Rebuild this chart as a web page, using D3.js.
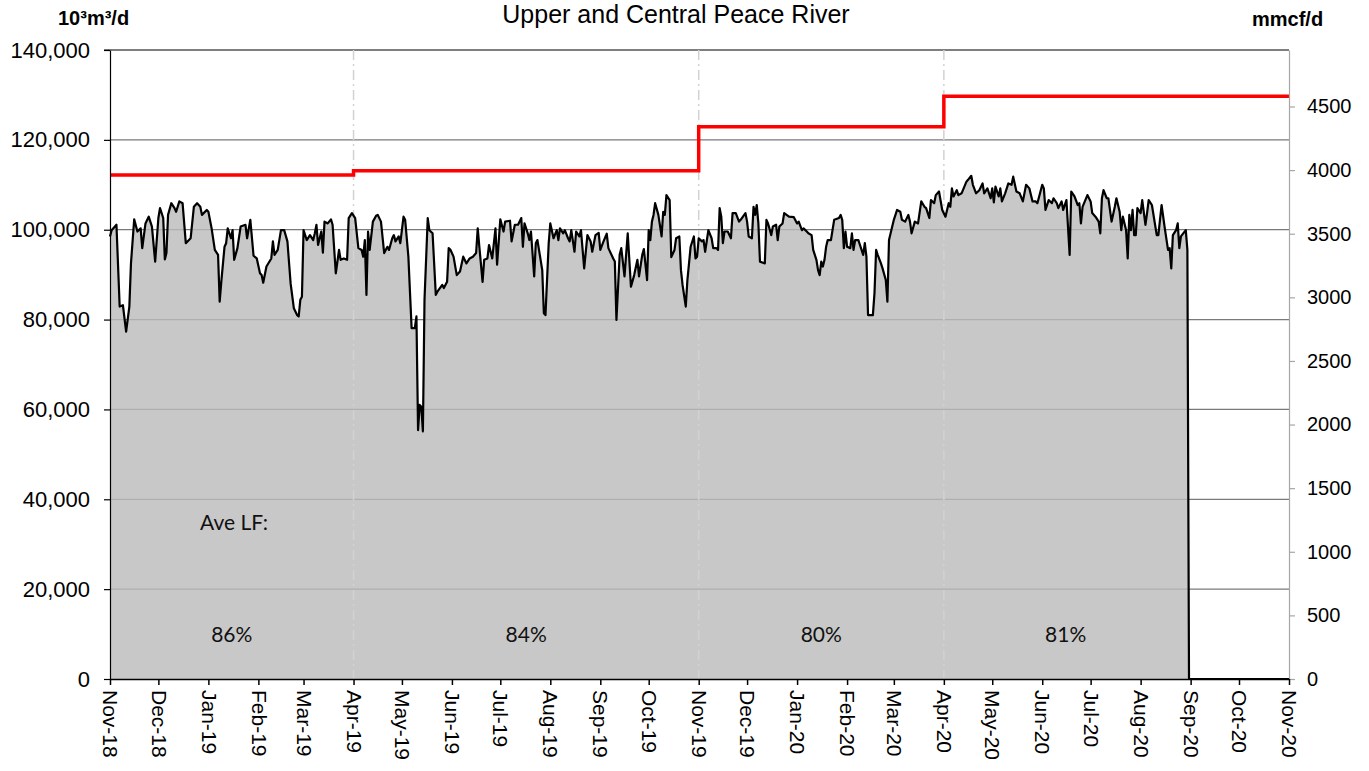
<!DOCTYPE html>
<html>
<head>
<meta charset="utf-8">
<script src="https://cdn.jsdelivr.net/npm/d3@7"></script>
<style>
  body { margin: 0; background: #fff; }
  svg text { font-family: "Liberation Sans", Arial, sans-serif; fill: #000; }
  svg text.note { font-family: Lato, "Open Sans", sans-serif; fill: #111; }
</style>
</head>
<body>
<svg id="chart" width="1369" height="771"></svg>
<script>
// daily throughput, 10^3 m3/d as [days since Nov 1 2018, value]
const flowReadings = [
  [0, 98500], [1, 99900], [4, 101100], [6, 82900], [8, 83200], [10, 77300], [12, 82900], [13, 92500], [15, 102300], [17, 99600],
  [19, 100300], [20, 95900], [22, 101400], [24, 102900], [26, 100700], [28, 92900], [30, 102600], [31, 104800], [33, 102600], [34, 93400],
  [35, 94800], [36, 103300], [38, 105900], [40, 104800], [41, 104000], [43, 106300], [45, 105900], [47, 97000], [50, 98100], [52, 105100],
  [54, 105900], [56, 105100], [57, 103300], [60, 104400], [61, 104000], [63, 100300], [65, 95500], [67, 94400], [68, 84000], [69, 88400],
  [71, 96200], [72, 97000], [73, 100300], [75, 98100], [76, 99900], [77, 93300], [79, 95900], [81, 100700], [84, 101100], [85, 98100],
  [87, 102200], [89, 94200], [91, 93600], [93, 90300], [94, 89900], [95, 88200], [97, 91800], [100, 93600], [101, 97400], [102, 94400],
  [104, 95500], [106, 99900], [108, 99900], [110, 97400], [112, 88000], [114, 82500], [116, 81000], [117, 80700], [118, 84400], [119, 85100],
  [120, 99900], [122, 97700], [124, 98800], [126, 97700], [127, 99200], [128, 101100], [129, 96600], [131, 99600], [132, 94900], [133, 101800],
  [135, 101400], [137, 102300], [138, 101100], [140, 90300], [142, 95500], [143, 93300], [145, 93600], [147, 93300], [148, 102600], [150, 103700],
  [152, 102600], [154, 95900], [156, 95500], [157, 94000], [158, 97700], [159, 85500], [160, 99600], [161, 95500], [163, 101800], [165, 103100],
  [166, 103300], [168, 101800], [170, 94800], [172, 96200], [173, 95500], [175, 98100], [176, 98800], [177, 97400], [179, 98500], [180, 97000],
  [182, 102900], [183, 102200], [185, 94000], [187, 78100], [189, 78100], [190, 80700], [191, 55400], [192, 61000], [193, 60600], [194, 55100],
  [195, 84400], [197, 102600], [198, 99900], [200, 99200], [202, 85500], [203, 86200], [206, 87700], [207, 87000], [209, 88400], [210, 95900],
  [211, 95600], [213, 94000], [215, 89900], [217, 90700], [219, 94000], [221, 92500], [223, 93600], [225, 94000], [227, 94800], [228, 100300],
  [229, 96200], [231, 88400], [232, 93300], [234, 93600], [235, 96600], [237, 93600], [239, 100300], [240, 92200], [242, 102300], [244, 99600],
  [245, 101800], [248, 102000], [249, 97400], [251, 101100], [253, 101100], [255, 102600], [256, 96200], [257, 101400], [259, 99200], [260, 97700],
  [261, 99600], [263, 89600], [264, 97000], [265, 97700], [268, 91000], [269, 81400], [270, 81000], [272, 97000], [273, 101400], [275, 98100],
  [277, 99900], [278, 97700], [279, 100300], [281, 99200], [282, 99900], [284, 98100], [285, 97400], [286, 99900], [288, 95100], [289, 99600],
  [291, 98500], [292, 99900], [294, 91400], [296, 98800], [298, 97400], [299, 95100], [301, 98800], [303, 99300], [304, 95500], [306, 97400],
  [308, 99100], [309, 95900], [312, 93600], [313, 92900], [314, 79900], [316, 94400], [317, 95900], [319, 89600], [321, 99200], [323, 87300],
  [325, 89900], [327, 93300], [328, 89600], [330, 94400], [331, 95700], [333, 88800], [334, 99900], [335, 97700], [336, 101800], [337, 103300],
  [338, 105900], [340, 103300], [342, 98500], [343, 104000], [344, 103300], [345, 107700], [347, 106600], [348, 93900], [350, 95500], [351, 98100],
  [353, 98500], [354, 91000], [355, 87700], [357, 82900], [358, 88800], [360, 96200], [362, 98500], [363, 93600], [364, 94000], [365, 98100],
  [367, 97400], [368, 97700], [369, 95100], [371, 99900], [373, 98100], [374, 95900], [376, 95900], [377, 95500], [378, 104800], [379, 102900],
  [380, 97000], [381, 99600], [383, 99600], [385, 98100], [386, 103700], [388, 103700], [390, 101800], [391, 102200], [394, 103700], [395, 101800],
  [396, 98500], [398, 98100], [399, 105100], [400, 103300], [401, 105500], [402, 101400], [403, 92900], [406, 92500], [407, 102200], [408, 101400],
  [410, 98800], [411, 100700], [413, 101100], [414, 97700], [415, 100700], [417, 101400], [418, 103700], [421, 102900], [424, 102800], [426, 101400],
  [427, 101800], [429, 99900], [430, 100300], [432, 99600], [433, 99200], [435, 98800], [436, 95500], [438, 93300], [439, 91000], [440, 89900],
  [441, 92900], [442, 91800], [443, 93300], [444, 96200], [445, 97700], [447, 97700], [449, 102200], [452, 102600], [453, 103300], [454, 102200],
  [455, 95900], [456, 99600], [457, 96200], [459, 95900], [460, 99200], [461, 95500], [462, 97700], [464, 97700], [465, 96600], [467, 94400],
  [468, 97000], [469, 94000], [470, 81000], [473, 81000], [474, 85900], [475, 95500], [476, 94400], [478, 92500], [479, 91400], [481, 88800],
  [482, 84000], [483, 97700], [484, 99200], [486, 102200], [488, 104400], [490, 104000], [491, 102200], [493, 101800], [495, 103300], [496, 101800],
  [497, 99200], [499, 101800], [501, 101400], [503, 106300], [505, 105100], [506, 104800], [508, 102600], [509, 106600], [511, 105900], [512, 107700],
  [514, 108500], [516, 104400], [518, 102900], [520, 105900], [521, 105100], [522, 109200], [523, 107400], [525, 108800], [526, 107700], [528, 108100],
  [531, 110700], [532, 111100], [534, 112000], [535, 110000], [537, 108100], [539, 108800], [541, 110300], [542, 108100], [544, 109200], [546, 107000],
  [547, 109200], [548, 106100], [549, 109600], [551, 107400], [552, 109200], [553, 106300], [555, 108100], [557, 110300], [559, 110000], [560, 111800],
  [562, 108500], [564, 108100], [566, 106300], [568, 110000], [570, 109200], [572, 106300], [574, 106300], [575, 105900], [578, 110000], [579, 109200],
  [580, 104400], [582, 106600], [584, 105900], [585, 107000], [587, 105900], [588, 104800], [590, 106300], [591, 104400], [593, 106600], [595, 94400],
  [596, 108500], [598, 107400], [600, 105500], [601, 105900], [602, 101400], [603, 105100], [606, 107700], [608, 106300], [609, 103700], [611, 102900],
  [613, 101800], [614, 99200], [615, 107000], [616, 108800], [618, 107000], [619, 107000], [621, 101800], [623, 105100], [624, 107000], [626, 104000],
  [627, 99900], [628, 102900], [630, 99900], [631, 93600], [632, 103300], [633, 99900], [634, 104400], [635, 98800], [636, 98800], [637, 104800],
  [639, 103700], [640, 106600], [642, 101100], [643, 103700], [644, 106600], [646, 105500], [649, 98800], [650, 98800], [652, 105500], [654, 100300],
  [656, 95500], [657, 95900], [658, 91400], [659, 98800], [661, 99900], [662, 101400], [663, 95900], [664, 98500], [667, 99900], [668, 95500],
  [669, 0], [731, 0]
]

// design capacity steps, 10^3 m3/d
const capacityStarts = ["2018-11-01", "2019-04-01", "2019-11-01", "2020-04-01"]
const capacityValues = [112200, 113100, 122900, 129700]

// average load factor per period
const lfPeriodStart = ["2018-11-01", "2019-04-01", "2019-11-01", "2020-04-01"]
const lfPeriodEnd = ["2019-04-01", "2019-11-01", "2020-04-01", "2020-08-30"]
const lfLabels = ["86%", "84%", "80%", "81%"]

const dividerDates = ["2019-04-01", "2019-11-01", "2020-04-01"]
const leftTicks = [0, 20000, 40000, 60000, 80000, 100000, 120000, 140000]
const rightTicks = [0, 500, 1000, 1500, 2000, 2500, 3000, 3500, 4000, 4500]
const firstDay = "2018-11-01"
const lastDay = "2020-11-01"
const mmcfPerE3m3 = 0.0353147

const parseDate = d3.timeParse("%Y-%m-%d")
const startDate = parseDate(firstDay)
const endDate = parseDate(lastDay)

const plotLeft = 110, plotRight = 1289, plotTop = 50, plotBottom = 679

const x = d3.scaleTime().domain([startDate, endDate]).range([plotLeft, plotRight])
const y = d3.scaleLinear().domain([0, 140000]).range([plotBottom, plotTop])
const yRight = d3.scaleLinear().domain([0, 140000 * mmcfPerE3m3]).range([plotBottom, plotTop])

const svg = d3.select("#chart")

const flow = flowReadings.map(([day, value]) => ({date: d3.timeDay.offset(startDate, day), value}))

// horizontal grid (under the area so it shows lighter inside it)
svg.append("g")
    .selectAll("line")
    .data(leftTicks.slice(1, -1))
    .join("line")
    .attr("x1", plotLeft).attr("x2", plotRight)
    .attr("y1", d => y(d)).attr("y2", d => y(d))
    .attr("stroke", "#7a7a7a")
    .attr("stroke-width", 1.2)

svg.append("line")
    .attr("x1", plotLeft - 6).attr("x2", plotRight)
    .attr("y1", y(140000)).attr("y2", y(140000))
    .attr("stroke", "#000")
    .attr("stroke-width", 1.2)

const area = d3.area()
    .x(d => x(d.date))
    .y0(y(0))
    .y1(d => y(d.value))

svg.append("path")
    .datum(flow)
    .attr("d", area)
    .attr("fill", "rgb(187,187,187)")
    .attr("fill-opacity", 0.81)

svg.append("g")
    .selectAll("line")
    .data(dividerDates)
    .join("line")
    .attr("x1", d => x(parseDate(d))).attr("x2", d => x(parseDate(d)))
    .attr("y1", plotTop).attr("y2", plotBottom)
    .attr("stroke", "#d2d2d2")
    .attr("stroke-width", 1.5)
    .attr("stroke-dasharray", "10,4,2,4")

const line = d3.line()
    .x(d => x(d.date))
    .y(d => y(d.value))

svg.append("path")
    .datum(flow)
    .attr("d", line)
    .attr("fill", "none")
    .attr("stroke", "#000")
    .attr("stroke-width", 2.2)
    .attr("stroke-linejoin", "round")

const capacity = capacityStarts.map((d, i) => ({date: parseDate(d), value: capacityValues[i]}))
capacity.push({date: endDate, value: capacityValues[capacityValues.length - 1]})

svg.append("path")
    .datum(capacity)
    .attr("d", d3.line().x(d => x(d.date)).y(d => y(d.value)).curve(d3.curveStepAfter))
    .attr("fill", "none")
    .attr("stroke", "#ff0000")
    .attr("stroke-width", 3.5)

// axes
const yAxis = svg.append("g")
    .attr("transform", `translate(${plotLeft},0)`)
    .call(d3.axisLeft(y).tickValues(leftTicks).tickFormat(d3.format(",")).tickSize(6).tickSizeOuter(0).tickPadding(14))
yAxis.selectAll("text").style("font-size", "22px")
yAxis.selectAll("line, path").attr("stroke", "#000").attr("stroke-width", 1.2)

const yAxisRight = svg.append("g")
    .attr("transform", `translate(${plotRight},0)`)
    .call(d3.axisRight(yRight).tickValues(rightTicks).tickFormat(d3.format("d")).tickSize(6).tickSizeOuter(0).tickPadding(12))
yAxisRight.selectAll("text").style("font-size", "20px")
yAxisRight.selectAll("line, path").attr("stroke", "#a6a6a6").attr("stroke-width", 1.2)

const monthTicks = d3.timeMonth.range(startDate, d3.timeDay.offset(endDate, 1))
const xAxis = svg.append("g")
    .attr("transform", `translate(0,${plotBottom})`)
    .call(d3.axisBottom(x).tickValues(monthTicks).tickFormat(d3.timeFormat("%b-%y")).tickSize(6).tickSizeOuter(0))
xAxis.selectAll("line, path").attr("stroke", "#000").attr("stroke-width", 1.5)
xAxis.selectAll("text")
    .attr("transform", "rotate(90)")
    .attr("x", 11)
    .attr("y", 0)
    .attr("dy", "0.35em")
    .style("text-anchor", "start")
    .style("font-size", "21px")

// titles
svg.append("text")
    .attr("x", 676).attr("y", 23)
    .attr("text-anchor", "middle")
    .style("font-size", "25px")
    .text("Upper and Central Peace River")

svg.append("text")
    .attr("x", 58).attr("y", 25)
    .style("font-size", "20px").style("font-weight", "bold")
    .text("10³m³/d")

svg.append("text")
    .attr("x", 1252).attr("y", 26)
    .style("font-size", "20px").style("font-weight", "bold")
    .text("mmcf/d")

// load factor notes
svg.append("text")
    .attr("class", "note")
    .attr("x", 200).attr("y", 530)
    .style("font-size", "21px")
    .text("Ave LF:")

svg.append("g")
    .selectAll("text")
    .data(lfLabels)
    .join("text")
    .attr("class", "note")
    .attr("x", (d, i) => (x(parseDate(lfPeriodStart[i])) + x(parseDate(lfPeriodEnd[i]))) / 2)
    .attr("y", 642)
    .attr("text-anchor", "middle")
    .style("font-size", "21px")
    .text(d => d)
</script>
</body>
</html>
